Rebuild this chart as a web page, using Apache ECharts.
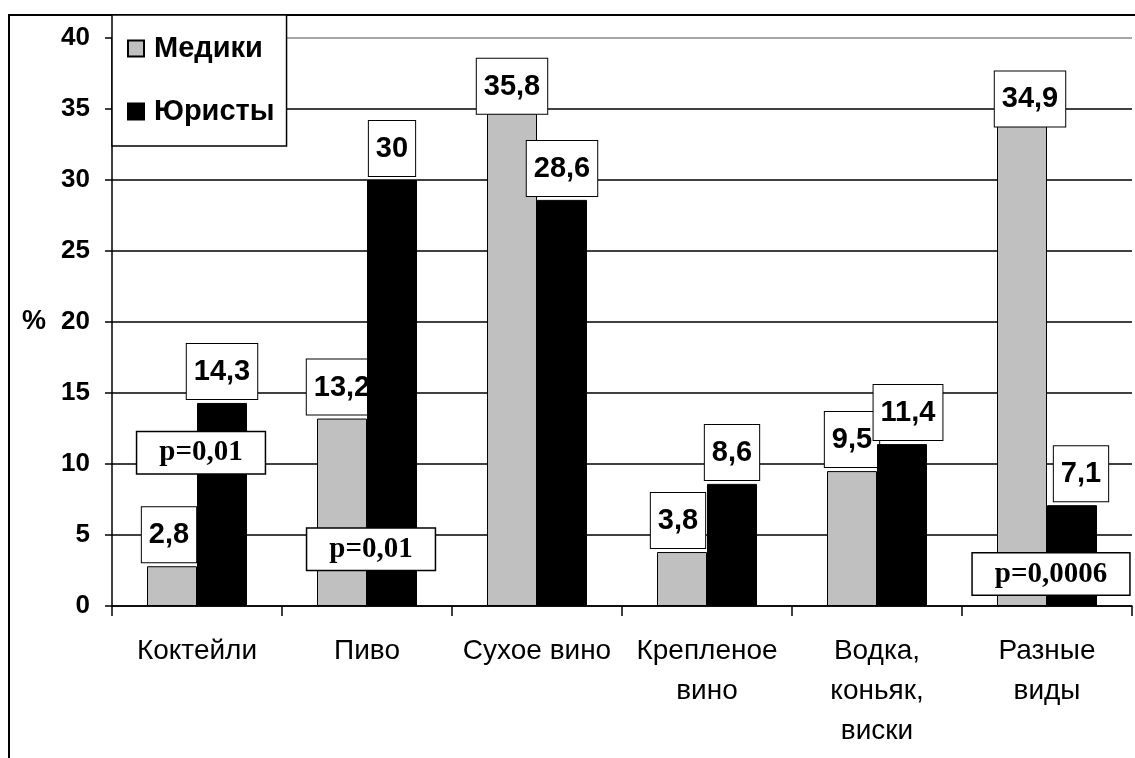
<!DOCTYPE html>
<html>
<head>
<meta charset="utf-8">
<script src="https://cdn.jsdelivr.net/npm/echarts@6/dist/echarts.min.js"></script>
<style>
  html, body { margin: 0; padding: 0; background: #fff; }
  #chart { width: 1135px; height: 758px; }
</style>
</head>
<body>
<div id="chart"></div>
<script>
// Предпочтения в алкогольных напитках: медики и юристы, %
const categories = ['Коктейли', 'Пиво', 'Сухое вино', 'Крепленое\nвино', 'Водка,\nконьяк,\nвиски', 'Разные\nвиды'];
const medics = [2.8, 13.2, 35.8, 3.8, 9.5, 34.9];
const lawyers = [14.3, 30, 28.6, 8.6, 11.4, 7.1];
const seriesNames = ['Медики', 'Юристы'];

// значимость различий (p) и уровень, на котором стоит подпись
const pNotes = ['p=0,01', 'p=0,01', 'p=0,0006'];
const pCategory = [0, 1, 5];
const pLevel = [10.8, 4.0, 2.25];

const yMin = 0, yMax = 40, yStep = 5;

const SANS = 'Arial, "Liberation Sans", sans-serif';
const SERIF = '"Times New Roman", "Liberation Serif", serif';

const fmt = v => String(v).replace('.', ',');

// ручные сдвиги подписей [dx, dy] по индексу категории
const medicShift = { 0: [-3, 0], 2: [0, 20], 3: [-4, 0], 5: [8, 20] };
const lawyerShift = { 4: [6, 0], 5: [9, 0] };

const valueLabel = {
  show: true,
  position: 'top',
  distance: 4,
  formatter: p => fmt(p.value),
  color: '#000',
  fontFamily: SANS,
  fontWeight: 'bold',
  fontSize: 29,
  lineHeight: 30,
  backgroundColor: '#fff',
  borderColor: '#000',
  borderWidth: 1,
  padding: [13, 7, 12, 7]
};

const withShift = (values, shifts) => values.map((v, i) => (
  shifts[i] ? { value: v, label: { offset: shifts[i] } } : v
));

const gridColors = [];
const gridWidths = [];
for (let v = yMin; v <= yMax; v += yStep) gridColors.push(v === yMax ? '#888' : '#000');

const chart = echarts.init(document.getElementById('chart'), null, { renderer: 'canvas' });

chart.setOption({
  animation: false,
  backgroundColor: '#fff',
  grid: { left: 112, right: 3, top: 38, bottom: 152, containLabel: false },
  legend: {
    data: seriesNames,
    orient: 'vertical',
    left: 112,
    top: 15,
    itemWidth: 16,
    itemHeight: 16,
    itemGap: 34,
    padding: [19, 12, 20, 15],
    backgroundColor: '#fff',
    borderColor: '#000',
    borderWidth: 1.5,
    icon: 'rect',
    textStyle: {
      color: '#000', fontFamily: SANS, fontWeight: 'bold', fontSize: 29,
      padding: [0, 0, 0, 5]
    },
    z: 20
  },
  xAxis: {
    type: 'category',
    data: categories,
    boundaryGap: true,
    axisLine: { lineStyle: { color: '#000', width: 1.5 } },
    axisTick: { show: true, length: 10, lineStyle: { color: '#000', width: 1.5 } },
    axisLabel: {
      color: '#000', fontFamily: SANS, fontSize: 28, lineHeight: 40,
      margin: 25, interval: 0
    },
    splitLine: { show: false }
  },
  yAxis: {
    type: 'value',
    min: yMin,
    max: yMax,
    interval: yStep,
    axisLine: { show: true, lineStyle: { color: '#000', width: 1.5 } },
    axisTick: { show: true, length: 7, lineStyle: { color: '#000', width: 1.5 } },
    axisLabel: {
      color: '#000', fontFamily: SANS, fontWeight: 'bold', fontSize: 26, margin: 22
    },
    splitLine: { show: true, lineStyle: { color: gridColors, width: 1.5 } }
  },
  series: [
    {
      name: seriesNames[0],
      type: 'bar',
      data: withShift(medics, medicShift),
      barWidth: 50,
      barGap: '0%',
      itemStyle: { color: '#c0c0c0', borderColor: '#000', borderWidth: 1 },
      label: valueLabel,
      z: 2
    },
    {
      name: seriesNames[1],
      type: 'bar',
      data: withShift(lawyers, lawyerShift),
      barWidth: 50,
      barGap: '0%',
      itemStyle: { color: '#000', borderColor: '#000', borderWidth: 1 },
      label: valueLabel,
      z: 3
    },
    {
      name: 'p',
      type: 'scatter',
      symbolSize: 0,
      silent: true,
      z: 5,
      itemStyle: { opacity: 1 },
      data: pNotes.map((t, i) => ({ name: t, value: [pCategory[i], pLevel[i]] })),
      label: {
        show: true,
        position: 'inside',
        offset: [4, 0],
        opacity: 1,
        formatter: p => p.name,
        color: '#000',
        fontFamily: SERIF,
        fontWeight: 'bold',
        fontSize: 29,
        lineHeight: 32,
        backgroundColor: '#fff',
        borderColor: '#000',
        borderWidth: 1.5,
        padding: [7, 22, 2, 22]
      }
    }
  ],
  graphic: [
    {
      type: 'rect',
      shape: { x: 9, y: 15, width: 1300, height: 900 },
      style: { fill: 'none', stroke: '#000', lineWidth: 2 },
      z: 0,
      silent: true
    },
    {
      type: 'text',
      left: 22,
      top: 308,
      style: { text: '%', fill: '#000', font: 'bold 27px ' + SANS },
      silent: true
    }
  ]
});
</script>
</body>
</html>
